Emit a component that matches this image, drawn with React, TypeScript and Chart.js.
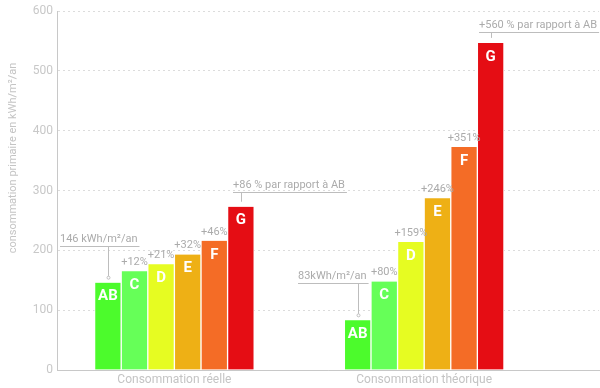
import { useEffect, useRef } from 'react';
import { Chart, registerables } from 'chart.js';

Chart.register(...registerables);

// Energy classes and their bar colours
const classes = ['AB', 'C', 'D', 'E', 'F', 'G'];
const classColors = ['#4cfb2c', '#66ff58', '#e6fc22', '#eeb015', '#f46c26', '#e50d14'];

// Two groups on the x axis
const groups = ['Consommation réelle', 'Consommation théorique'];

// Primary consumption, kWh/m²/an, per class (AB..G)
const reelle = [146, 165, 177, 193, 216, 273];
const theorique = [83, 148, 214, 287, 373, 547];

// Increase over class AB, for classes C..F
const reellePct = ['+12%', '+21%', '+32%', '+46%'];
const theoriquePct = ['+80%', '+159%', '+246%', '+351%'];

// Callout texts
const abNotes = ['146 kWh/m²/an', '83kWh/m²/an'];
const gNotes = ['+86 % par rapport à AB', '+560 % par rapport à AB'];

const yTicks = [0, 100, 200, 300, 400, 500, 600];
const yTitle = 'consommation primaire en kWh/m²/an';

const FONT = 'Roboto, "Noto Sans", sans-serif';

const annotations = {
  id: 'annotations',
  afterDatasetsDraw(chart: any) {
    const ctx = chart.ctx as CanvasRenderingContext2D;
    ctx.save();

    // class letters inside bars
    ctx.fillStyle = '#ffffff';
    ctx.font = `bold 15px ${FONT}`;
    ctx.textAlign = 'center';
    ctx.textBaseline = 'middle';
    classes.forEach((name, i) => {
      chart.getDatasetMeta(i).data.forEach((bar: any) => {
        ctx.fillText(name, bar.x, bar.y + 14);
      });
    });

    // percentages above C..F
    const pcts = [reellePct, theoriquePct];
    ctx.fillStyle = '#ababab';
    ctx.font = `11px ${FONT}`;
    for (let i = 1; i <= 4; i++) {
      chart.getDatasetMeta(i).data.forEach((bar: any, g: number) => {
        ctx.fillText(pcts[g][i - 1], bar.x, bar.y - 9);
      });
    }

    // callouts with underline and leader
    const callout = (bar: any, text: string, dx: number, rise: number, dot: boolean) => {
      const y0 = Math.round(bar.y - rise) + 0.5;
      const x0 = Math.round(bar.x + dx);
      ctx.font = `11px ${FONT}`;
      ctx.textAlign = 'left';
      ctx.textBaseline = 'middle';
      ctx.fillStyle = '#ababab';
      ctx.fillText(text, x0, y0 - 7.5);
      const w = ctx.measureText(text).width;
      ctx.strokeStyle = '#bdbdbd';
      ctx.lineWidth = 1;
      ctx.beginPath();
      ctx.moveTo(x0, y0);
      ctx.lineTo(x0 + w + 2, y0);
      const lx = Math.round(bar.x) + 0.5;
      const yEnd = bar.y - 5;
      ctx.moveTo(lx, y0);
      ctx.lineTo(lx, yEnd - (dot ? 1.5 : 0));
      ctx.stroke();
      if (dot) {
        ctx.beginPath();
        ctx.arc(lx, yEnd, 1.5, 0, Math.PI * 2);
        ctx.stroke();
      }
    };
    const ab = chart.getDatasetMeta(0).data;
    const gm = chart.getDatasetMeta(5).data;
    callout(ab[0], abNotes[0], -48, 37, true);
    callout(ab[1], abNotes[1], -60, 37, true);
    callout(gm[0], gNotes[0], -8, 15, false);
    callout(gm[1], gNotes[1], -12, 11, false);

    ctx.restore();
  },
  afterDraw(chart: any) {
    const ctx = chart.ctx as CanvasRenderingContext2D;
    ctx.save();
    ctx.translate(13, 158);
    ctx.rotate(-Math.PI / 2);
    ctx.font = `11px ${FONT}`;
    ctx.fillStyle = '#c4c4c4';
    ctx.textAlign = 'center';
    ctx.textBaseline = 'middle';
    ctx.fillText(yTitle, 0, 0);
    ctx.restore();
  },
};

export default function App() {
  const ref = useRef<HTMLCanvasElement>(null);

  useEffect(() => {
    if (!ref.current) return;
    const series = classes.map((_, i) => [reelle[i], theorique[i]]);
    const chart = new Chart(ref.current, {
      type: 'bar',
      data: {
        datasets: classes.map((name, i) => ({
          label: name,
          data: series[i].map((v, g) => ({ x: g, y: v })),
          backgroundColor: classColors[i],
          borderColor: '#ffffff',
          borderWidth: { left: 1, right: 1, top: 0, bottom: 0 },
          barThickness: 26.6,
        })),
      },
      options: {
        responsive: false,
        animation: false,
        events: [],
        layout: { padding: { top: 10, right: 1, bottom: 0, left: 0 } },
        plugins: {
          legend: { display: false },
          tooltip: { enabled: false },
        },
        scales: {
          x: {
            type: 'linear',
            offset: false,
            min: -0.47,
            max: 1.7,
            grid: { display: false, drawTicks: false, offset: false },
            border: { display: true, color: '#c8c8c8' },
            afterBuildTicks: (s: any) => {
              s.ticks = groups.map((_, i) => ({ value: i }));
            },
            afterFit: (s: any) => {
              s.height = 18;
            },
            ticks: {
              padding: 3,
              color: '#c4c4c4',
              font: { family: FONT, size: 12 },
              callback: (v: any) => groups[v] ?? '',
            },
          },
          y: {
            min: 0,
            max: 600,
            afterBuildTicks: (s: any) => {
              s.ticks = yTicks.map((v) => ({ value: v }));
            },
            afterFit: (s: any) => {
              s.width = 57;
            },
            grid: { color: '#dcdcdc', drawTicks: false },
            border: { display: true, color: '#c8c8c8', dash: [2, 3] },
            ticks: {
              padding: 4,
              color: '#c8c8c8',
              font: { family: FONT, size: 12 },
            },
          },
        },
      },
      plugins: [annotations],
    } as any);
    return () => chart.destroy();
  }, []);

  return (
    <div style={{ position: 'absolute', left: 0, top: 0, width: 600, height: 388 }}>
      <canvas ref={ref} width={600} height={388} />
    </div>
  );
}
